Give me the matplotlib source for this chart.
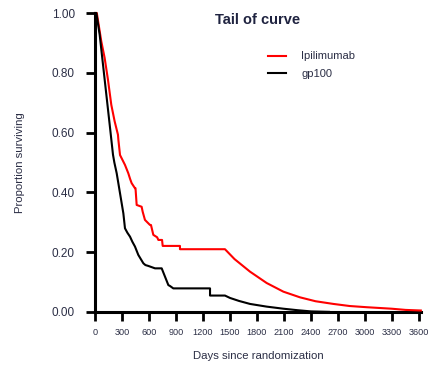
import matplotlib
matplotlib.use("Agg")
import matplotlib.pyplot as plt

plt.rcParams['font.family'] = ['Liberation Sans', 'DejaVu Sans']

# survival curves (days, proportion surviving), incl. extrapolated tail
ipi_days = [0, 20, 70, 107, 144, 181, 218, 255, 260, 278, 333, 370, 390, 407, 444, 450,
            463, 518, 530, 555, 611, 622, 648, 690, 704, 745, 752, 944, 944, 1444,
            1550, 1722, 1907, 2093, 2278, 2450, 2648, 2830, 3019, 3296, 3450, 3620]
ipi_surv = [1.0, 1.0, 0.905, 0.85, 0.777, 0.693, 0.638, 0.593, 0.575, 0.525, 0.492, 0.464,
            0.445, 0.431, 0.414, 0.414, 0.358, 0.352, 0.335, 0.308, 0.291, 0.291, 0.258,
            0.250, 0.241, 0.241, 0.221, 0.221, 0.21, 0.21,
            0.177, 0.135, 0.097, 0.068, 0.049, 0.036, 0.027, 0.020, 0.016, 0.011, 0.007, 0.005]

gp_days = [0, 15, 52, 89, 126, 163, 200, 215, 241, 278, 315, 333, 360, 389, 415, 444, 481,
           537, 560, 593, 667, 741, 778, 815, 833, 870, 1278, 1278, 1444,
           1500, 1600, 1722, 1907, 2093, 2250, 2400, 2600]
gp_surv = [1.0, 1.0, 0.927, 0.827, 0.727, 0.627, 0.526, 0.50, 0.464, 0.397, 0.33, 0.28,
           0.265, 0.252, 0.235, 0.219, 0.191, 0.163, 0.157, 0.154, 0.146, 0.146, 0.118,
           0.090, 0.087, 0.079, 0.079, 0.055, 0.055,
           0.047, 0.037, 0.027, 0.018, 0.011, 0.006, 0.002, 0.0005]

xticks = list(range(0, 3601, 300))
yticks = [0.0, 0.2, 0.4, 0.6, 0.8, 1.0]

text_col = '#2b2e45'

fig = plt.figure(figsize=(4.32, 3.67), dpi=100)
ax = fig.add_axes([95 / 432, 1 - 312 / 367, (421 - 95) / 432, (312 - 13) / 367])

ax.plot(ipi_days, ipi_surv, color='#ff0000', lw=1.5, label='Ipilimumab',
        clip_on=False, zorder=3)
ax.plot(gp_days, gp_surv, color='black', lw=1.5, label='gp100',
        clip_on=False, zorder=3)

ax.set_xlim(0, 3622)
ax.set_ylim(0, 1)
ax.set_xticks(xticks)
ax.set_yticks(yticks)
ax.set_xticklabels([str(t) for t in xticks], fontsize=6.6, color=text_col)
ax.set_yticklabels(['%.2f' % t for t in yticks], fontsize=8.5, color=text_col)
ax.tick_params(axis='both', length=6.5, width=2.0, direction='out')
ax.tick_params(axis='y', pad=8)
ax.tick_params(axis='x', pad=5)

for s in ['top', 'right']:
    ax.spines[s].set_visible(False)
for s in ['left', 'bottom']:
    ax.spines[s].set_linewidth(2.2)

ax.set_xlabel('Days since randomization', fontsize=8.2, color=text_col, labelpad=10)
ax.set_ylabel('Proportion surviving', fontsize=8.2, color=text_col, labelpad=19)

ax.text(0.5, 0.975, 'Tail of curve', transform=ax.transAxes, fontsize=10.5,
        fontweight='bold', color='#1f2340', ha='center', va='center')

leg = ax.legend(loc='upper left', bbox_to_anchor=(0.5, 0.905), frameon=False,
                fontsize=8, handlelength=1.6, handletextpad=1.4, labelspacing=0.65)
for t in leg.get_texts():
    t.set_color(text_col)

fig.savefig('out.png', dpi=100)
